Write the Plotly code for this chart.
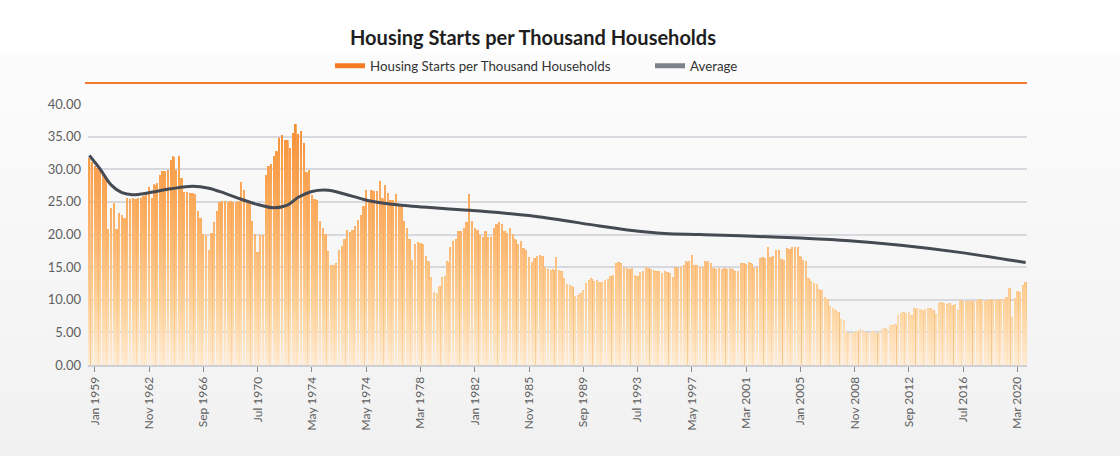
import plotly.graph_objects as go
from urllib.parse import quote

# ---------------- data ----------------
starts = [
    31.6, 31.0, 30.5, 30.1, 29.6, 29.2, 28.6, 20.8, 24.0, 24.8,
    20.8, 23.3, 23.0, 22.4, 25.5, 25.4, 25.5, 25.4, 25.5, 25.5,
    25.8, 26.3, 27.2, 25.6, 27.6, 27.9, 29.0, 29.7, 29.6, 29.8,
    31.4, 31.9, 29.8, 31.9, 28.6, 26.4, 26.4, 26.3, 26.3, 26.2,
    23.5, 22.5, 20.0, 19.9, 17.6, 20.2, 21.8, 23.5, 24.9, 25.0,
    25.1, 25.0, 25.1, 24.9, 25.0, 25.0, 28.0, 26.8, 24.8, 24.7,
    22.0, 20.0, 17.2, 19.8, 19.8, 29.0, 30.5, 30.8, 31.9, 32.7,
    34.8, 35.2, 34.5, 34.4, 33.2, 35.5, 36.9, 35.4, 35.8, 34.0,
    29.5, 29.8, 26.0, 25.4, 25.2, 22.0, 21.0, 20.0, 17.4, 15.3,
    15.2, 15.5, 17.6, 18.2, 19.3, 20.7, 20.3, 20.6, 21.2, 22.2,
    23.0, 24.3, 26.8, 25.3, 26.7, 26.6, 26.6, 28.1, 25.5, 27.6,
    26.3, 25.2, 25.3, 26.2, 24.6, 24.5, 22.0, 21.0, 19.2, 16.0,
    18.5, 18.8, 18.7, 18.5, 16.6, 15.8, 13.5, 11.2, 11.0, 12.1,
    13.5, 13.6, 15.8, 18.1, 18.9, 19.2, 20.5, 20.5, 21.0, 21.8,
    26.2, 22.0, 21.0, 20.6, 19.8, 19.5, 20.5, 19.6, 19.5, 21.0,
    21.5, 21.9, 21.5, 20.5, 20.2, 21.0, 20.0, 19.2, 18.5, 19.0,
    17.8, 17.6, 16.5, 15.8, 16.4, 16.6, 16.8, 16.6, 15.0, 14.6,
    14.5, 14.6, 16.5, 14.5, 14.3, 13.2, 12.4, 12.2, 12.0, 10.5,
    10.6, 11.0, 11.4, 12.5, 12.9, 13.2, 12.8, 12.9, 12.7, 12.6,
    13.0, 13.1, 13.6, 13.8, 15.6, 15.7, 15.5, 14.9, 14.8, 14.7,
    14.8, 13.8, 13.6, 14.2, 14.4, 14.9, 14.8, 14.7, 14.5, 14.3,
    14.4, 14.1, 14.3, 14.2, 14.0, 13.4, 14.9, 14.8, 15.0, 15.2,
    15.8, 15.9, 16.8, 15.3, 15.2, 14.9, 15.0, 15.8, 15.9, 15.5,
    14.8, 14.7, 14.8, 14.7, 14.8, 14.7, 14.8, 14.6, 14.3, 14.4,
    15.5, 15.6, 15.4, 15.8, 15.5, 14.8, 14.9, 16.4, 16.5, 16.4,
    18.1, 16.5, 16.6, 17.6, 17.5, 16.2, 16.1, 17.8, 17.7, 18.0,
    18.1, 18.0, 16.6, 16.1, 15.9, 13.3, 12.8, 12.5, 12.4, 11.5,
    11.4, 10.3, 10.0, 9.0, 8.7, 8.3, 8.1, 7.0, 6.8, 5.0,
    4.8, 4.9, 5.0, 5.1, 5.4, 5.3, 5.0, 4.9, 5.0, 5.1,
    4.9, 5.0, 5.5, 5.6, 5.4, 6.1, 6.0, 6.2, 7.6, 7.9,
    8.0, 7.9, 8.1, 7.6, 8.6, 8.7, 8.5, 8.3, 8.6, 8.7,
    8.6, 8.4, 7.7, 9.4, 9.6, 9.5, 9.3, 9.4, 9.2, 9.3,
    8.3, 9.9, 9.8, 9.7, 9.8, 9.9, 9.8, 9.9, 10.0, 9.9,
    9.8, 9.9, 10.0, 9.9, 10.0, 9.9, 10.0, 10.1, 10.4, 11.8,
    7.3, 10.2, 11.3, 11.1, 12.2, 12.6,
]

avg_index = [0, 4, 8, 12, 16, 22, 30, 38, 44, 50, 56, 62, 68, 73, 77, 82, 88,
             94, 100, 104, 115, 140, 164, 188, 200, 212, 225, 240, 262, 280,
             299, 320, 345]
avg_values = [32.1, 30.0, 27.6, 26.4, 26.1, 26.4, 27.0, 27.4, 27.1, 26.3, 25.4,
              24.6, 24.1, 24.5, 25.7, 26.6, 26.8, 26.2, 25.5, 25.1, 24.5, 23.7,
              22.8, 21.3, 20.6, 20.15, 20.0, 19.8, 19.45, 19.05, 18.35, 17.3,
              15.7]

tick_index = [2, 22, 42, 62, 82, 102, 122, 142, 162, 182, 202, 222, 242, 262,
              282, 302, 322, 342]
tick_labels = ["Jan 1959", "Nov 1962", "Sep 1966", "Jul 1970", "May 1974",
               "May 1974", "Mar 1978", "Jan 1982", "Nov 1985", "Sep 1989",
               "Jul 1993", "May 1997", "Mar 2001", "Jan 2005", "Nov 2008",
               "Sep 2012", "Jul 2016", "Mar 2020"]

series_name = "Housing Starts per Thousand Households"
avg_name = "Average"

# ---------------- styling ----------------
x_idx = list(range(len(starts)))

# vertical gradient for bars: colour depends on the height (value) in the plot
grad_stops = [(0, (255, 236, 212)), (10, (254, 208, 152)), (20, (252, 182, 110)),
              (30, (249, 160, 76)), (40, (245, 138, 46))]


def grad_color(v):
    for (a, ca), (b, cb) in zip(grad_stops[:-1], grad_stops[1:]):
        if a <= v <= b:
            t = (v - a) / (b - a)
            c = [round(ca[k] + (cb[k] - ca[k]) * t) for k in range(3)]
            return "rgb(%d,%d,%d)" % tuple(c)
    return "rgb(%d,%d,%d)" % grad_stops[-1][1]


fig = go.Figure()

band = 1.0
n_bands = 40
# overlay bars, drawn from the top band downwards; each is capped at its band top
for k in range(n_bands, 0, -1):
    hi = k * band
    ys = [min(v, hi) for v in starts]
    fig.add_trace(go.Bar(
        x=x_idx, y=ys,
        marker=dict(color=grad_color(hi - band / 2), line=dict(width=0)),
        showlegend=False, hoverinfo="skip",
    ))

fig.add_trace(go.Scatter(
    x=avg_index, y=avg_values, mode="lines",
    line=dict(color="#464b53", width=3, shape="spline", smoothing=1.0),
    showlegend=False, hoverinfo="skip",
))

# legend entries
fig.add_trace(go.Scatter(x=[None], y=[None], mode="lines", name=series_name,
                         line=dict(color="#f47b24", width=5)))
fig.add_trace(go.Scatter(x=[None], y=[None], mode="lines", name=avg_name,
                         line=dict(color="#7c818a", width=5)))

W, H = 1120, 456
L, R, T, B = 88, 93, 104, 91
pw, ph = W - L - R, H - T - B

# background gradient
svg = ('<svg xmlns="http://www.w3.org/2000/svg" width="1120" height="456" '
       'preserveAspectRatio="none" viewBox="0 0 1120 456">'
       '<defs><linearGradient id="g" x1="0" y1="0" x2="0" y2="1">'
       '<stop offset="0" stop-color="#fcfcfc"/><stop offset="1" stop-color="#f1f1f1"/>'
       '</linearGradient></defs>'
       '<rect x="0" y="0" width="1120" height="52" fill="#ffffff"/>'
       '<rect x="0" y="52" width="1120" height="404" fill="url(#g)"/></svg>')

fig.update_layout(
    width=W, height=H,
    margin=dict(l=L, r=R, t=T, b=B),
    paper_bgcolor="#ffffff",
    plot_bgcolor="rgba(0,0,0,0)",
    barmode="overlay",
    bargap=0.5,
    font=dict(family="Lato, 'Open Sans', sans-serif", color="#5a5a5a"),
    title=dict(
        text="Housing Starts per Thousand Households",
        font=dict(family="Lato", size=20, color="#1e1e1e", weight="bold"),
        x=(533 - L) / pw, xref="paper", xanchor="center",
        y=1 - 38 / H, yref="container", yanchor="middle",
    ),
    legend=dict(
        orientation="h",
        x=(330 - L) / pw, xanchor="left",
        y=(H - B - 66) / ph, yanchor="middle",
        font=dict(family="Lato", size=13.3, color="#333333"),
        bgcolor="rgba(0,0,0,0)",
        itemwidth=30,
        entrywidth=275, entrywidthmode="pixels",
    ),
    xaxis=dict(
        range=[-0.5, len(starts) - 0.5],
        tickmode="array", tickvals=tick_index, ticktext=tick_labels,
        tickangle=-90,
        tickfont=dict(family="Lato", size=12, color="#5f5f5f"),
        ticks="outside", ticklen=5, tickcolor="#8a8a8a", tickwidth=1,
        showgrid=False, showline=True, linecolor="#cfd0d6", linewidth=2,
        zeroline=False,
    ),
    yaxis=dict(
        range=[0, 40], tickmode="linear", tick0=0, dtick=5,
        tickformat=".2f",
        tickfont=dict(family="Lato", size=13, color="#5f5f5f"),
        showgrid=True, gridcolor="#d8d9de", gridwidth=1.5,
        zeroline=False, showline=False, ticks="", ticklabelstandoff=6,
    ),
    images=[dict(
        source="data:image/svg+xml;utf8," + quote(svg),
        xref="paper", yref="paper",
        x=-L / pw, y=1 + T / ph, sizex=W / pw, sizey=H / ph,
        xanchor="left", yanchor="top", sizing="stretch", layer="below",
    )],
    shapes=[dict(
        type="line", xref="paper", yref="paper",
        x0=(85 - L) / pw, x1=1.0, y0=(H - B - 83) / ph, y1=(H - B - 83) / ph,
        line=dict(color="#f07a2a", width=2),
    )],
)

fig.write_html("out.html", config={"displayModeBar": False},
               post_script="document.body.style.margin='0';")
